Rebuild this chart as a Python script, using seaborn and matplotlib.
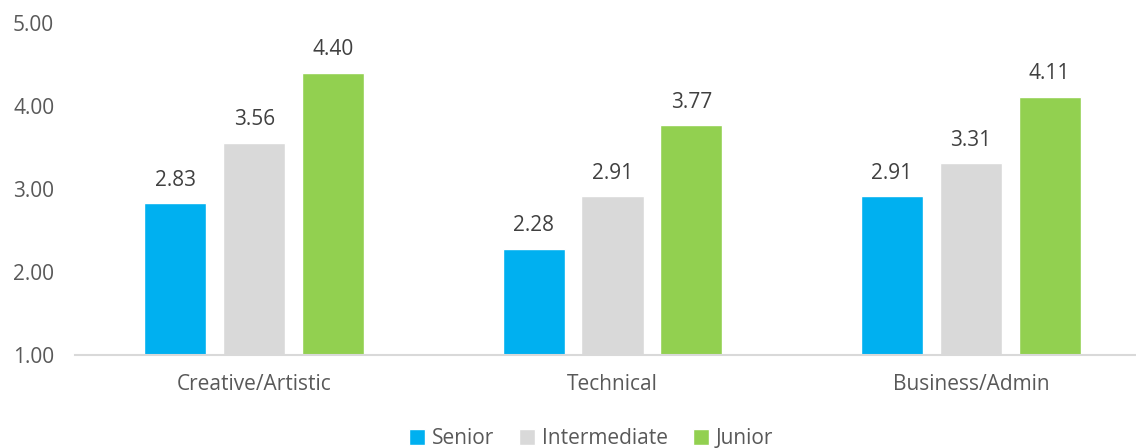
import matplotlib
matplotlib.use("Agg")
import matplotlib.pyplot as plt
import seaborn as sns
import pandas as pd
from matplotlib.patches import Patch

categories = ["Creative/Artistic", "Technical", "Business/Admin"]
levels = ["Senior", "Intermediate", "Junior"]
senior = [2.83, 2.28, 2.91]
intermediate = [3.56, 2.91, 3.31]
junior = [4.40, 3.77, 4.11]
yticks = [1.0, 2.0, 3.0, 4.0, 5.0]

colors = {"Senior": "#00B0F0", "Intermediate": "#D9D9D9", "Junior": "#92D050"}

rows = []
for lvl, vals in zip(levels, [senior, intermediate, junior]):
    for c, v in zip(categories, vals):
        rows.append({"Category": c, "Level": lvl, "Value": v})
df = pd.DataFrame(rows)

sns.set_theme(style="white")
plt.rcParams["font.family"] = ["Open Sans", "DejaVu Sans"]

W, H = 1136, 448
fig = plt.figure(figsize=(W / 100, H / 100), dpi=100)
left, right = 75, 1150
top, bottom = 23, 355
ax = fig.add_axes([left / W, 1 - bottom / H, (right - left) / W, (bottom - top) / H])

sns.barplot(data=df, x="Category", y="Value", hue="Level", order=categories,
            hue_order=levels, palette=colors, width=0.66, gap=0.21,
            ax=ax, legend=False, saturation=1, errorbar=None)

ax.set_ylim(1, 5)
ax.set_xlim(-0.5, 2.5)
ax.set_yticks(yticks)
ax.set_yticklabels([f"{t:.2f}" for t in yticks])
ax.set_xlabel("")
ax.set_ylabel("")
for s in ["top", "right", "left"]:
    ax.spines[s].set_visible(False)
ax.spines["bottom"].set_color("#D9D9D9")
ax.spines["bottom"].set_linewidth(1.5)
fs = 15
ax.tick_params(axis="y", length=0, pad=15, labelsize=fs, labelcolor="#595959")
ax.tick_params(axis="x", length=0, pad=14, labelsize=fs, labelcolor="#595959")

for cont in ax.containers:
    ax.bar_label(cont, fmt="%.2f", padding=9, fontsize=fs, color="#404040")

handles = [Patch(facecolor=colors[l], label=l) for l in levels]
fig.legend(handles=handles, loc="lower center", bbox_to_anchor=(0.52, -0.045), ncol=3,
           frameon=False, fontsize=fs, handlelength=0.8, handleheight=0.8,
           handletextpad=0.3, columnspacing=1.2, labelcolor="#595959")

fig.savefig("out.png", dpi=100)
